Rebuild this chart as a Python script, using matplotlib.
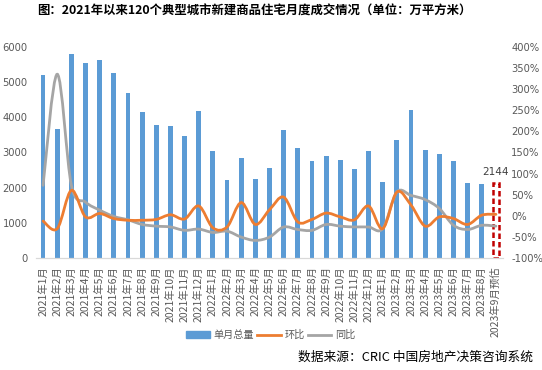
import matplotlib
matplotlib.use("Agg")
import matplotlib.pyplot as plt
import numpy as np
from matplotlib.path import Path
from matplotlib.patches import PathPatch, Patch
from matplotlib.lines import Line2D
from matplotlib.ticker import FuncFormatter

plt.rcParams['font.family'] = ['Noto Sans CJK SC', 'DejaVu Sans']

months = ["2021年1月", "2021年2月", "2021年3月", "2021年4月", "2021年5月", "2021年6月",
          "2021年7月", "2021年8月", "2021年9月", "2021年10月", "2021年11月", "2021年12月",
          "2022年1月", "2022年2月", "2022年3月", "2022年4月", "2022年5月", "2022年6月",
          "2022年7月", "2022年8月", "2022年9月", "2022年10月", "2022年11月", "2022年12月",
          "2023年1月", "2023年2月", "2023年3月", "2023年4月", "2023年5月", "2023年6月",
          "2023年7月", "2023年8月", "2023年9月预估"]
volume = [5220, 3677, 5820, 5563, 5649, 5257, 4706, 4163, 3791, 3763, 3477, 4191,
          3049, 2220, 2849, 2249, 2563, 3649, 3134, 2763, 2906, 2791, 2534, 3049,
          2163, 3363, 4220, 3077, 2963, 2763, 2134, 2106, 2144]
mom = [-13, -31, 60, -3, 5, -7, -11, -11, -9, 2, -8, 23,
       -29, -27, 31, -21, 14, 44, -15, -9, 6, -3, -10, 23,
       -31, 56, 25, -25, -3, -7, -21, 1, 3]
yoy = [72, 336, 72, 32, 13, -2, -10, -21, -25, -27, -35, -32,
       -40, -37, -51, -59, -51, -27, -33, -35, -21, -25, -27, -27,
       -31, 56, 48, 38, 17, -23, -33, -23, -25]

BLUE = "#5B9BD5"
ORANGE = "#ED7D31"
GRAY = "#A5A5A5"
TXT = "#595959"

fig = plt.figure(figsize=(5.42, 3.70), dpi=100)
ax = fig.add_axes([36/542, 1-257.7/370, (503-36)/542, (257.7-47.3)/370])
ax2 = ax.twinx()

x = np.arange(len(months))
ax.bar(x[:-1], volume[:-1], width=0.34, color=BLUE, zorder=1)
ax.bar(x[-1], volume[-1], width=0.42, facecolor="white", edgecolor="#C00000",
       linestyle=(0, (2.2, 1.2)), linewidth=1.8, zorder=1)
ax.text(x[-1], volume[-1] + 170, str(volume[-1]), ha="center", va="bottom",
        fontsize=7.5, color="#404040", family="DejaVu Sans")

ax.set_xlim(-0.5, len(months) - 0.5)
ax.set_ylim(0, 6000)
ax.set_yticks(range(0, 6001, 1000))
ax2.set_ylim(-100, 400)
ax2.set_yticks(range(-100, 401, 50))
ax2.yaxis.set_major_formatter(FuncFormatter(lambda v, p: f"{int(v)}%"))


def smooth_path(xs, ys):
    pts = np.column_stack([xs, ys]).astype(float)
    n = len(pts)
    verts = [pts[0]]
    codes = [Path.MOVETO]
    for i in range(n - 1):
        p0 = pts[i - 1] if i > 0 else pts[i]
        p1 = pts[i]
        p2 = pts[i + 1]
        p3 = pts[i + 2] if i + 2 < n else pts[i + 1]
        c1 = p1 + (p2 - p0) / 6.0
        c2 = p2 - (p3 - p1) / 6.0
        verts += [c1, c2, p2]
        codes += [Path.CURVE4] * 3
    return Path(verts, codes)


ax2.add_patch(PathPatch(smooth_path(x, yoy), facecolor="none", edgecolor=GRAY,
                        linewidth=2.0, capstyle="round", zorder=3))
ax2.add_patch(PathPatch(smooth_path(x, mom), facecolor="none", edgecolor=ORANGE,
                        linewidth=2.0, capstyle="round", zorder=4))

for a in (ax, ax2):
    for s in a.spines.values():
        s.set_visible(False)
ax.spines['bottom'].set_visible(True)
ax.spines['bottom'].set_color("#D9D9D9")
ax.spines['bottom'].set_linewidth(0.9)

ax.tick_params(axis='y', length=0, labelsize=7.2, labelcolor=TXT, pad=6)
ax2.tick_params(axis='y', length=0, labelsize=7.2, labelcolor=TXT, pad=6)
for lab in ax.get_yticklabels() + ax2.get_yticklabels():
    lab.set_family("DejaVu Sans")
ax.set_xticks(x)
ax.set_xticklabels(months, rotation=90, fontsize=7.5, color=TXT)
ax.tick_params(axis='x', length=0, pad=6)

fig.text(0.469, 0.97, "图：2021年以来120个典型城市新建商品住宅月度成交情况（单位：万平方米）",
         ha="center", va="center", fontsize=8.9, fontweight="bold", color="black")

handles = [Patch(facecolor=BLUE, edgecolor=BLUE),
           Line2D([0], [0], color=ORANGE, lw=2),
           Line2D([0], [0], color=GRAY, lw=2)]
fig.legend(handles, ["单月总量", "环比", "同比"], loc="center",
           bbox_to_anchor=(271/542, 1-335/370), ncol=3, frameon=False,
           fontsize=7.3, labelcolor=TXT, handlelength=2.3, handleheight=0.6,
           columnspacing=0.3, handletextpad=0.4)

fig.text(533/542, 1-357/370, "数据来源：CRIC 中国房地产决策咨询系统", ha="right",
         va="center", fontsize=9.2, color="black")

fig.savefig("out.png", dpi=100)
